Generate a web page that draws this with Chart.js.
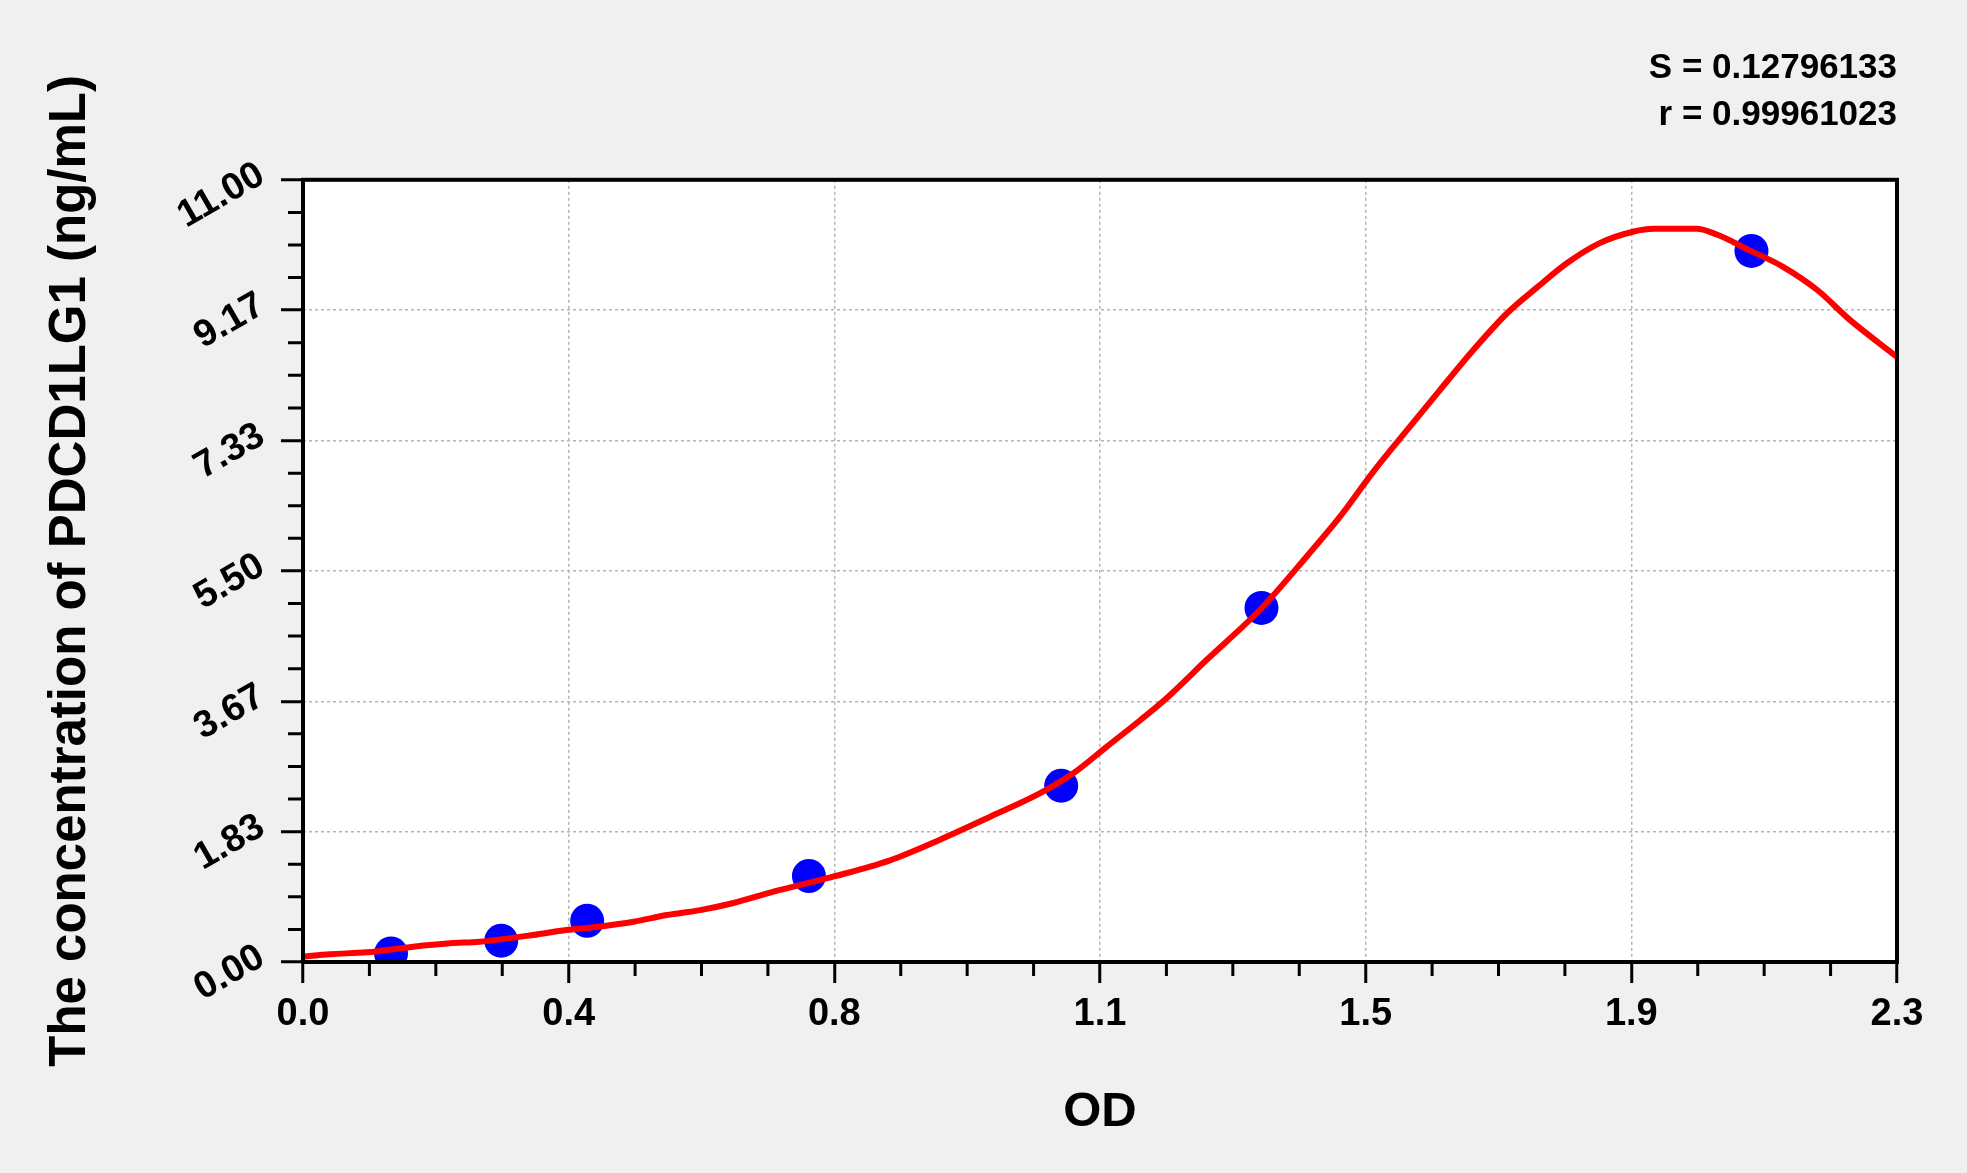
<!DOCTYPE html>
<html>
<head>
<meta charset="utf-8">
<title>PDCD1LG1 standard curve</title>
<script src="https://cdn.jsdelivr.net/npm/chart.js@4.4.1/dist/chart.umd.min.js"></script>
<style>
  html, body { margin: 0; padding: 0; background: #f0f0f0; }
  #wrap { width: 1967px; height: 1173px; position: relative; }
</style>
</head>
<body>
<div id="wrap"><canvas id="curve"></canvas></div>
<script>
// axis ranges and tick labels, as printed on the plot
const xMax = 2.3;
const yMax = 11;
const xTickLabels = ['0.0', '0.4', '0.8', '1.1', '1.5', '1.9', '2.3'];
const yTickLabels = ['0.00', '1.83', '3.67', '5.50', '7.33', '9.17', '11.00'];

// standards (blue dots)
const stdOD = [0.127, 0.286, 0.410, 0.730, 1.094, 1.383, 2.090];
const stdConc = [0.12, 0.30, 0.58, 1.21, 2.48, 4.98, 10.00];

// fitted curve
const curveOD = [0.000, 0.039, 0.092, 0.159, 0.212, 0.255, 0.332, 0.380, 0.429, 0.477,
  0.525, 0.573, 0.621, 0.679, 0.765, 0.847, 0.919, 0.991, 1.063, 1.111,
  1.160, 1.208, 1.246, 1.304, 1.383, 1.448, 1.496, 1.544, 1.593, 1.641,
  1.689, 1.737, 1.781, 1.824, 1.871, 1.919, 1.950, 2.011, 2.040, 2.089,
  2.135, 2.185, 2.232, 2.300];
const curveConc = [0.075, 0.11, 0.136, 0.215, 0.263, 0.286, 0.38, 0.45, 0.50, 0.567,
  0.66, 0.73, 0.83, 0.99, 1.20, 1.43, 1.72, 2.04, 2.37, 2.65,
  3.03, 3.40, 3.71, 4.25, 4.975, 5.70, 6.26, 6.89, 7.48, 8.05,
  8.61, 9.12, 9.49, 9.83, 10.11, 10.27, 10.31, 10.31, 10.23, 10.00,
  9.78, 9.45, 9.03, 8.51];

const fitStats = ['S = 0.12796133', 'r = 0.99961023'];

Chart.defaults.font.family = "'Liberation Sans', Arial, sans-serif";
Chart.defaults.color = '#000';

function toPoints(xs, ys) {
    return xs.map((x, i) => ({ x: x, y: ys[i] }));
}

// white plot area, frame and minor ticks
const plotFrame = {
    id: 'plotFrame',
    beforeDraw(chart) {
        const a = chart.chartArea;
        const ctx = chart.ctx;
        ctx.save();
        ctx.fillStyle = '#fff';
        ctx.fillRect(a.left, a.top, a.right - a.left, a.bottom - a.top);
        ctx.restore();
    },
    afterDraw(chart) {
        const a = chart.chartArea;
        const ctx = chart.ctx;
        const xs = chart.scales.x;
        const ys = chart.scales.y;
        ctx.save();
        ctx.strokeStyle = '#000';
        ctx.lineWidth = 3;
        ctx.beginPath();
        for (let i = 1; i < 24; i++) {
            if (i % 4 === 0) continue;
            const px = xs.getPixelForValue(i * xMax / 24);
            ctx.moveTo(px, a.bottom);
            ctx.lineTo(px, a.bottom + 14);
            const py = ys.getPixelForValue(i * yMax / 24);
            ctx.moveTo(a.left, py);
            ctx.lineTo(a.left - 15, py);
        }
        ctx.stroke();
        ctx.lineWidth = 4;
        ctx.strokeRect(a.left, a.top, a.right - a.left, a.bottom - a.top);
        ctx.restore();
    }
};

new Chart(document.getElementById('curve'), {
    type: 'scatter',
    data: {
        datasets: [{
            label: 'fit',
            data: toPoints(curveOD, curveConc),
            showLine: true,
            borderColor: '#ff0000',
            borderWidth: 6,
            cubicInterpolationMode: 'monotone',
            pointRadius: 0,
            fill: false
        }, {
            label: 'standards',
            data: toPoints(stdOD, stdConc),
            backgroundColor: '#0000ff',
            borderWidth: 0,
            pointRadius: 17
        }]
    },
    options: {
        responsive: true,
        maintainAspectRatio: false,
        animation: false,
        layout: { padding: { left: 0, top: 0, right: 70, bottom: 0 } },
        plugins: {
            legend: { display: false },
            tooltip: { enabled: false },
            title: {
                display: true,
                text: fitStats,
                align: 'end',
                color: '#000',
                font: { size: 35, weight: 'bold', lineHeight: 1.34 },
                padding: { top: 45, bottom: 41 }
            }
        },
        scales: {
            x: {
                type: 'linear',
                min: 0,
                max: xMax,
                afterBuildTicks(s) {
                    s.ticks = xTickLabels.map((_, i) => ({ value: i * xMax / (xTickLabels.length - 1) }));
                },
                afterFit(s) { s.height = 211; },
                ticks: {
                    callback: (v, i) => xTickLabels[i],
                    minRotation: 0,
                    maxRotation: 0,
                    padding: 9,
                    color: '#000',
                    font: { size: 38, weight: 'bold' }
                },
                grid: {
                    color: '#b4b4b4',
                    lineWidth: 1.5,
                    tickLength: 21,
                    tickColor: '#000',
                    tickWidth: 3,
                    tickBorderDash: []
                },
                border: { display: false, dash: [3, 3] },
                title: {
                    display: true,
                    text: 'OD',
                    color: '#000',
                    font: { size: 49, weight: 'bold' },
                    padding: { top: 0, bottom: 31 }
                }
            },
            y: {
                type: 'linear',
                min: 0,
                max: yMax,
                afterBuildTicks(s) {
                    s.ticks = yTickLabels.map((_, i) => ({ value: i * yMax / (yTickLabels.length - 1) }));
                },
                afterFit(s) { s.width = 303; },
                ticks: {
                    callback: (v, i) => yTickLabels[i],
                    minRotation: 30,
                    maxRotation: 30,
                    align: 'end',
                    labelOffset: 9,
                    padding: 10,
                    color: '#000',
                    font: { size: 38, weight: 'bold' }
                },
                grid: {
                    color: '#b4b4b4',
                    lineWidth: 1.5,
                    tickLength: 22,
                    tickColor: '#000',
                    tickWidth: 3,
                    tickBorderDash: []
                },
                border: { display: false, dash: [3, 3] },
                title: {
                    display: true,
                    text: 'The concentration of PDCD1LG1 (ng/mL)',
                    color: '#000',
                    font: { size: 51, weight: 'bold' },
                    padding: { top: 40, bottom: 0 }
                }
            }
        }
    },
    plugins: [plotFrame]
});
</script>
</body>
</html>
